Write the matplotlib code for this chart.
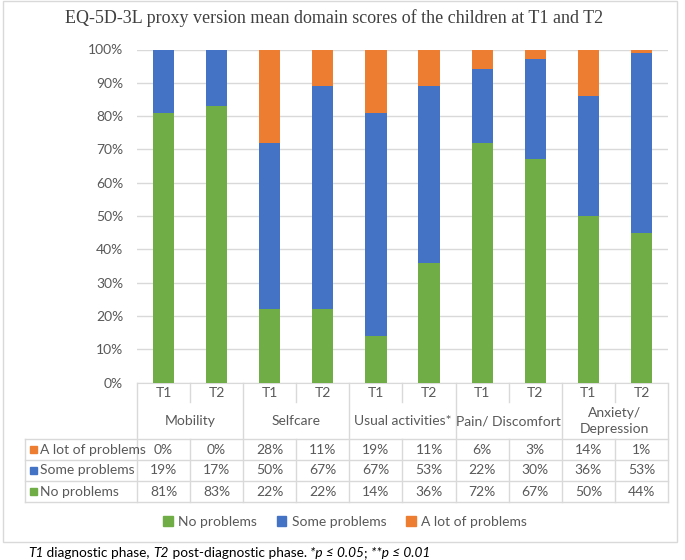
"""
EQ-5D-3L proxy domain scores, stacked bars with data table underneath
"""

import matplotlib
matplotlib.use('Agg')
import matplotlib.pyplot as plt
from matplotlib.patches import Rectangle

domains = ['Mobility', 'Selfcare', 'Usual activities*', 'Pain/ Discomfort', 'Anxiety/\nDepression']
phases = ['T1', 'T2']
series = ['A lot of problems', 'Some problems', 'No problems']

# bar heights (percent)
no_problems = [81, 83, 22, 22, 14, 36, 72, 67, 50, 45]
some_problems = [19, 17, 50, 67, 67, 53, 22, 30, 36, 54]
lot_problems = [0, 0, 28, 11, 19, 11, 6, 3, 14, 1]

# numbers printed in the data table
table_lot = ['0%', '0%', '28%', '11%', '19%', '11%', '6%', '3%', '14%', '1%']
table_some = ['19%', '17%', '50%', '67%', '67%', '53%', '22%', '30%', '36%', '53%']
table_no = ['81%', '83%', '22%', '22%', '14%', '36%', '72%', '67%', '50%', '44%']

GREEN = '#70ad47'
BLUE = '#4472c4'
ORANGE = '#ed7d31'
TXT = '#595959'
LINE = '#d9d9d9'
FONT = ['Lato', 'DejaVu Sans']
FS = 10

W, H = 685, 560
fig = plt.figure(figsize=(W / 100, H / 100), dpi=100)
plt.rcParams['font.family'] = FONT


def px(x0, y0, x1, y1):
    # pixel box (top-left origin) -> figure fraction rect
    return [x0 / W, 1 - y1 / H, (x1 - x0) / W, (y1 - y0) / H]


# outer chart border
fig.patches.append(Rectangle((3 / W, 1 - 542 / H), 674 / W, 541 / H, transform=fig.transFigure,
                             fill=False, edgecolor=LINE, lw=1))

ax = fig.add_axes(px(137, 49.5, 668, 382.7))
n = len(no_problems)
xs = [i + 0.5 for i in range(n)]
bw = 0.4
bottom2 = [a + b for a, b in zip(no_problems, some_problems)]
ax.bar(xs, no_problems, bw, color=GREEN, zorder=3)
ax.bar(xs, some_problems, bw, bottom=no_problems, color=BLUE, zorder=3)
ax.bar(xs, lot_problems, bw, bottom=bottom2, color=ORANGE, zorder=3)
ax.set_xlim(0, n)
ax.set_ylim(0, 100)
ax.set_yticks(range(0, 101, 10))
ax.set_yticklabels(['{}%'.format(v) for v in range(0, 101, 10)], color=TXT, fontsize=FS)
ax.tick_params(axis='y', length=0, pad=10)
ax.set_xticks([])
ax.grid(axis='y', color=LINE, lw=1, zorder=0)
for s in ['left', 'right', 'top']:
    ax.spines[s].set_visible(False)
ax.spines['bottom'].set_color(LINE)

fig.text(334 / W, 1 - 18 / H, 'EQ-5D-3L proxy version mean domain scores of the children at T1 and T2',
         ha='center', va='center', fontsize=13, family='Liberation Serif', color='#404040')

# data table drawn in pixel coordinates on an overlay axes
tab = fig.add_axes([0, 0, 1, 1])
tab.set_xlim(0, W)
tab.set_ylim(H, 0)
tab.axis('off')
x_left, x_a, x_b = 25, 137, 668
col_w = (x_b - x_a) / n
y_top, rows = 383, [439, 460, 481, 502]


def hline(y, x0, x1):
    tab.plot([x0, x1], [y, y], color=LINE, lw=1)


def vline(x, y0, y1):
    tab.plot([x, x], [y0, y1], color=LINE, lw=1)


for y in rows:
    hline(y, x_left, x_b)
vline(x_left, rows[0], rows[-1])
for i in range(n + 1):
    x = x_a + i * col_w
    if i % 2 == 0:
        vline(x, y_top, rows[-1])
    else:
        vline(x, y_top, 402)
        vline(x, rows[0], rows[-1])

for i in range(n):
    cx = x_a + (i + 0.5) * col_w
    tab.text(cx, 393, phases[i % 2], ha='center', va='center', color=TXT, fontsize=FS)
for j, d in enumerate(domains):
    cx = x_a + (2 * j + 1) * col_w
    tab.text(cx, 421, d, ha='center', va='center', color=TXT, fontsize=FS, linespacing=1.4)

for r, (name, vals, col) in enumerate(zip(series, [table_lot, table_some, table_no], [ORANGE, BLUE, GREEN])):
    cy = (rows[r] + rows[r + 1]) / 2
    tab.add_patch(Rectangle((30, cy - 3.5), 7, 7, color=col))
    tab.text(40, cy, name, ha='left', va='center', color=TXT, fontsize=FS)
    for i, v in enumerate(vals):
        tab.text(x_a + (i + 0.5) * col_w, cy, v, ha='center', va='center', color=TXT, fontsize=FS)

# legend
handles = [Rectangle((0, 0), 1, 1, color=c) for c in [GREEN, BLUE, ORANGE]]
fig.legend(handles, ['No problems', 'Some problems', 'A lot of problems'], loc='center',
           bbox_to_anchor=(345 / W, 1 - 522 / H), ncol=3, frameon=False, fontsize=FS,
           handlelength=0.7, handleheight=0.7, handletextpad=0.4, columnspacing=1.4, labelcolor=TXT)

# footnote with italic parts, placed piece by piece
pieces = [('T1', 'italic'), (' diagnostic phase, ', 'normal'), ('T2', 'italic'),
          (' post-diagnostic phase. ', 'normal'), ('*p ≤ 0.05', 'italic'), ('; ', 'normal'),
          ('**p ≤ 0.01', 'italic')]
renderer = fig.canvas.get_renderer()
x = 28
for txt, style in pieces:
    t = fig.text(x / W, 1 - 553 / H, txt, ha='left', va='center', fontsize=9.8, style=style,
                 family=FONT, color='black')
    bb = t.get_window_extent(renderer=renderer)
    x += bb.width

fig.savefig('out.png', dpi=100)
